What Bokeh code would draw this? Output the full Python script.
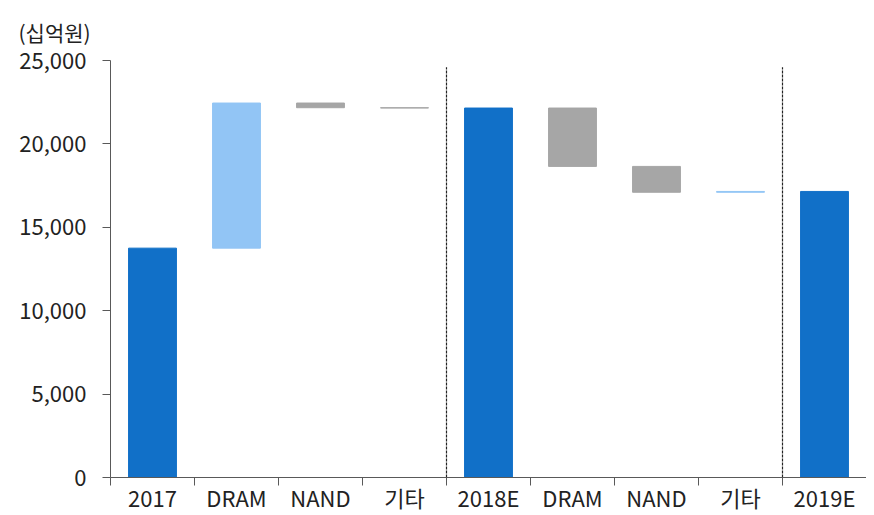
from bokeh.plotting import figure
from bokeh.models import Range1d, FixedTicker, NumeralTickFormatter, ColumnDataSource
from bokeh.embed import file_html
from bokeh.resources import INLINE

categories = ["2017", "DRAM", "NAND", "기타", "2018E", "DRAM", "NAND", "기타", "2019E"]
kinds = ["total", "delta", "delta", "delta", "total", "delta", "delta", "delta", "total"]
values = [13750, 8700, -280, -20, 22150, -3500, -1550, 50, 17150]
y_ticks = [0, 5000, 10000, 15000, 20000, 25000]
divider_positions = [4, 8]
divider_top = 24600
unit_label = "(십억원)"

c_total = "#1170C8"
c_up = "#92C5F5"
c_down = "#A6A6A6"

FONT = "Noto Sans CJK KR"

xs, bottoms, tops, colors = [], [], [], []
running = 0
for i, (k, v) in enumerate(zip(kinds, values)):
    xs.append(i + 0.5)
    if k == "total":
        bottoms.append(0)
        tops.append(v)
        colors.append(c_total)
        running = v
    else:
        b, t = running, running + v
        bottoms.append(min(b, t))
        tops.append(max(b, t))
        colors.append(c_up if v > 0 else c_down)
        running = t

src = ColumnDataSource(dict(x=xs, bottom=bottoms, top=tops, color=colors))

p = figure(width=866, height=515, output_backend="svg", toolbar_location=None,
           x_range=Range1d(0, len(categories)), y_range=Range1d(0, 25000),
           min_border_left=110, min_border_right=0, min_border_top=60, min_border_bottom=36)
p.vbar(x="x", bottom="bottom", top="top", width=0.57, color="color", source=src)

for d in divider_positions:
    p.segment(x0=[d], y0=[0], x1=[d], y1=[divider_top], line_color="#222222",
              line_width=1.2, line_dash="3 1")

p.outline_line_color = None
p.xgrid.visible = False
p.ygrid.visible = False

p.title.text = unit_label
p.title.text_font = FONT
p.title.text_font_size = "21px"
p.title.text_font_style = "normal"
p.title.text_color = "#222222"
p.title.align = "left"
p.title.offset = -92
p.title.standoff = 28

xa = p.xaxis[0]
xa.ticker = FixedTicker(ticks=xs, minor_ticks=list(range(len(categories) + 1)))
xa.major_label_overrides = {x: c for x, c in zip(xs, categories)}
xa.major_tick_out = 0
xa.major_tick_in = 0
xa.minor_tick_out = 8
xa.minor_tick_in = 0
xa.major_label_standoff = -5
xa.axis_line_color = "#595959"
xa.minor_tick_line_color = "#595959"
xa.major_label_text_font = FONT
xa.major_label_text_font_size = "22px"
xa.major_label_text_color = "#222222"

ya = p.yaxis[0]
ya.ticker = FixedTicker(ticks=y_ticks)
ya.formatter = NumeralTickFormatter(format="0,0")
ya.major_tick_out = 8
ya.major_tick_in = 0
ya.minor_tick_out = 0
ya.minor_tick_in = 0
ya.major_label_standoff = 16
ya.axis_line_color = "#595959"
ya.major_tick_line_color = "#595959"
ya.major_label_text_font = FONT
ya.major_label_text_font_size = "22px"
ya.major_label_text_color = "#222222"

open("out.html", "w").write(file_html(p, INLINE))
